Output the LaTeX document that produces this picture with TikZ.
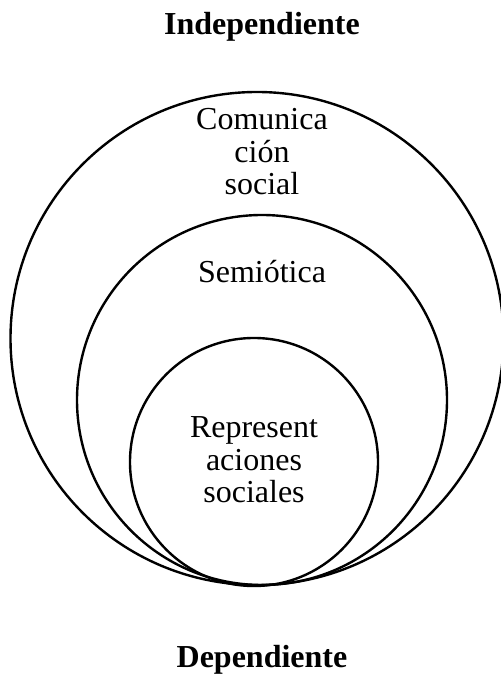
\documentclass[tikz,border=0pt]{standalone}
\usepackage{fontspec}
\setmainfont{Liberation Serif}
\usepackage{tikz}
\usetikzlibrary{positioning}

\tikzset{
    ring/.style={draw=black, line width=1.2pt},
    lbl/.style={anchor=base, align=center, inner sep=0pt, font=\fontsize{16}{16.25}\selectfont},
    pole/.style={anchor=base, inner sep=0pt, font=\fontsize{16}{16.25}\selectfont\bfseries}
}

\begin{document}
\begin{tikzpicture}[x=0.5pt, y=0.5pt]
    \useasboundingbox (0,0) rectangle (500,675);

    % nested circles, tangent at the bottom
    \draw[ring] (257,336.5) circle (246.5);
    \draw[ring] (262,275) circle (185);
    \draw[ring] (254,213) circle (124);

    % labels
    \node[pole] (indep) at (262,640) {Independiente};
    \node[pole] (dep) at (262,7) {Dependiente};

    \node[lbl] (comun) at (262,480) {Comunica\\ción\\social};
    \node[lbl] (semio) at (262,392) {Semiótica};
    \node[lbl] (repr) at (254,172) {Represent\\aciones\\sociales};
\end{tikzpicture}
\end{document}
